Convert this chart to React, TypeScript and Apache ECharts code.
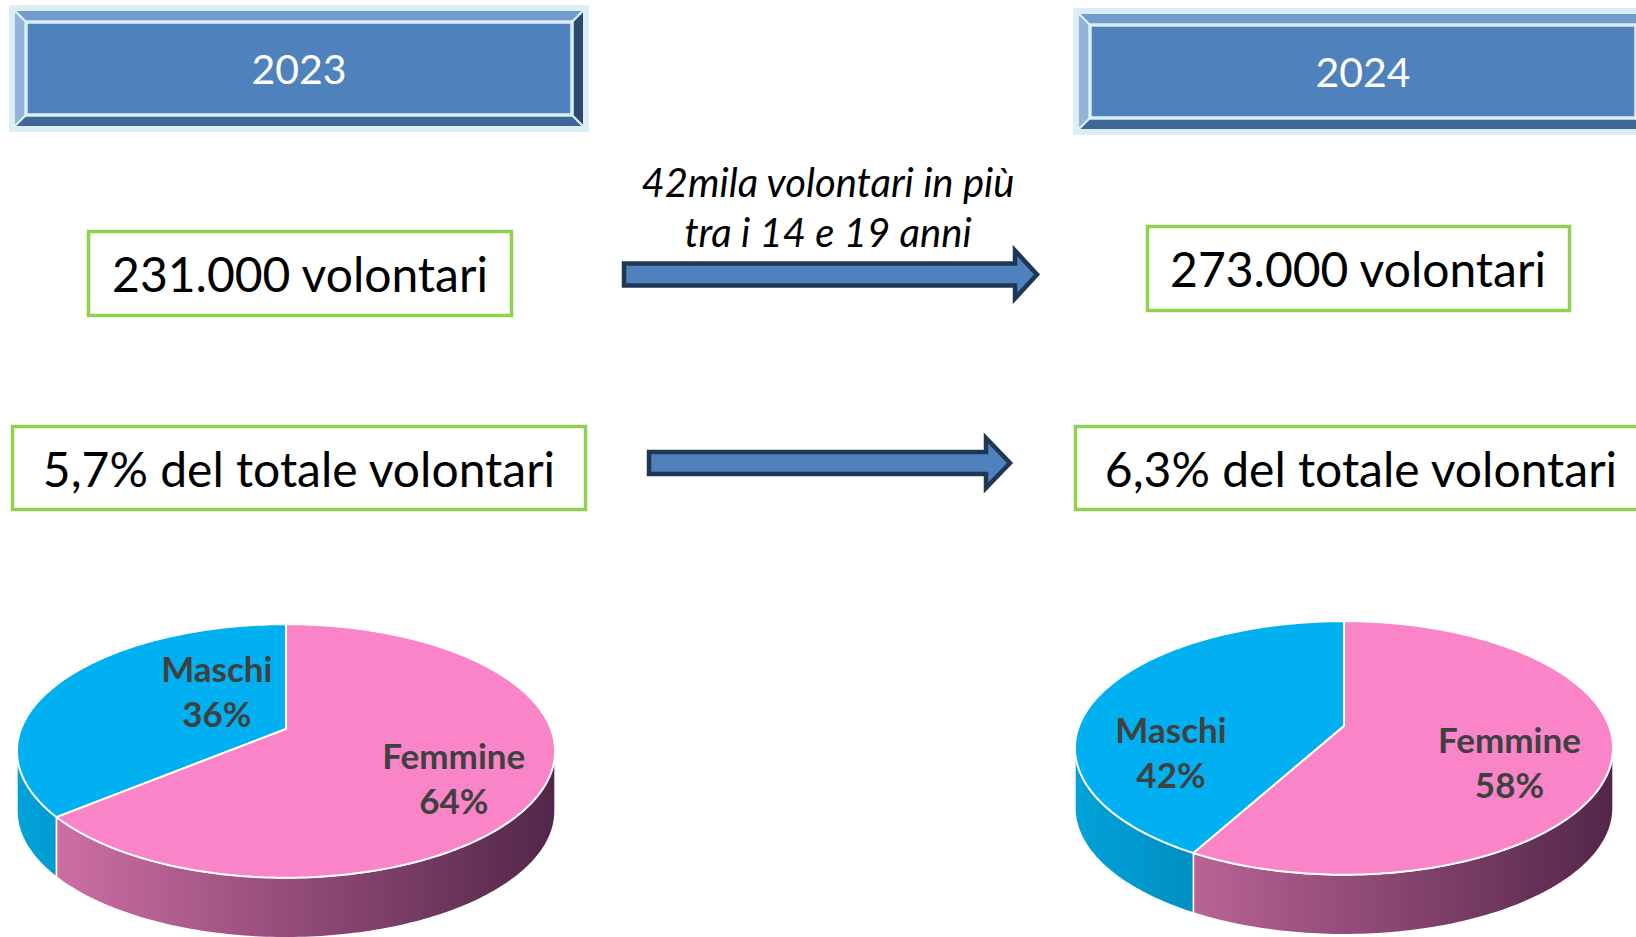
import React, { useEffect, useRef } from 'react';
import * as echarts from 'echarts';

// ---------- data ----------
const GENDERS = ['Maschi', 'Femmine'];
const YEARS = ['2023', '2024'];
const SHARES_2023 = [36, 64];
const SHARES_2024 = [42, 58];
const VOLUNTEERS = ['231.000 volontari', '273.000 volontari'];
const SHARE_OF_TOTAL = ['5,7% del totale volontari', '6,3% del totale volontari'];
const CHANGE_NOTE = ['42mila volontari in più', 'tra i 14 e 19 anni'];

// ---------- style / layout ----------
const FONT = 'Lato, "Open Sans", sans-serif';
const TOP_COLORS = ['#00B0F0', '#F984C8'];
const SIDE_COLORS = [
  ['#00A2DA', '#004E6E'],
  ['#D674AC', '#532649'],
];
const PERSP = 0.173;
const RX = 265;
const RY = 123;
const DEPTH = 60;
const PIE_CENTERS = [
  [286, 729],
  [1344, 726],
];
const LABEL_NUDGE = [
  [[73, -7], [12, 14]],
  [[-18, 44], [2, 16]],
];

function pieSeries(values: number[], pieIdx: number) {
  const [cx, cy] = PIE_CENTERS[pieIdx];
  const total = values.reduce((a, b) => a + b, 0);
  const proj = (deg: number, r = 1, dz = 0) => {
    const t = (deg * Math.PI) / 180;
    const u = -Math.sin(t) * r;
    const v = -Math.cos(t) * r;
    const den = 1 - PERSP * v;
    return [cx + (RX * u) / den, cy + (RY * v) / den + dz];
  };
  const arc = (a: number, b: number, dz: number) => {
    const pts: number[][] = [];
    const n = Math.max(2, Math.ceil(Math.abs(b - a)));
    for (let k = 0; k <= n; k++) pts.push(proj(a + ((b - a) * k) / n, 1, dz));
    return pts;
  };
  const visA = (Math.acos(-PERSP) * 180) / Math.PI;
  const visB = 360 - visA;
  const halfW = RX / Math.sqrt(1 - PERSP * PERSP);
  return {
    type: 'custom',
    coordinateSystem: 'none',
    silent: true,
    data: values.map((v, i) => ({ name: GENDERS[i], value: [v, i] })),
    renderItem: (params: any) => {
      const i = params.dataIndex;
      const before = values.slice(0, i).reduce((a, b) => a + b, 0);
      const a0 = (before / total) * 360;
      const a1 = ((before + values[i]) / total) * 360;
      const children: any[] = [];
      const s0 = Math.max(a0, visA);
      const s1 = Math.min(a1, visB);
      if (s1 > s0) {
        const pts = arc(s0, s1, 0).concat(arc(s1, s0, DEPTH));
        children.push({
          type: 'polygon',
          shape: { points: pts },
          style: {
            fill: {
              type: 'linear',
              x: cx - halfW,
              y: 0,
              x2: cx + halfW,
              y2: 0,
              global: true,
              colorStops: [
                { offset: 0, color: SIDE_COLORS[i][0] },
                { offset: 1, color: SIDE_COLORS[i][1] },
              ],
            },
            stroke: '#ffffff',
            lineWidth: 1.5,
            lineJoin: 'round',
          },
        });
      }
      children.push({
        type: 'polygon',
        shape: { points: [[cx, cy]].concat(arc(a0, a1, 0)) },
        style: { fill: TOP_COLORS[i], stroke: '#ffffff', lineWidth: 2, lineJoin: 'round' },
      });
      const mid = (a0 + a1) / 2;
      const [lx, ly] = proj(mid, 0.62);
      const nd = LABEL_NUDGE[pieIdx][i];
      children.push({
        type: 'text',
        z2: 10,
        x: lx + nd[0],
        y: ly + nd[1],
        style: {
          text: GENDERS[i] + '\n' + values[i] + '%',
          fill: '#404040',
          font: `bold 35px ${FONT}`,
          align: 'center',
          verticalAlign: 'middle',
          textAlign: 'center',
          textVerticalAlign: 'middle',
          lineHeight: 45,
        },
      });
      return { type: 'group', children };
    },
  };
}

function headerBox(x: number, y: number, w: number, h: number, label: string) {
  const b = 5;
  const bev = 12;
  const ox1 = x + b, oy1 = y + b, ox2 = x + w - b, oy2 = y + h - b;
  const ix1 = ox1 + bev, iy1 = oy1 + bev, ix2 = ox2 - bev, iy2 = oy2 - bev;
  const light = '#DAEEF3';
  const poly = (points: number[][], fill: string) => ({
    type: 'polygon',
    shape: { points },
    style: { fill, stroke: light, lineWidth: 2 },
  });
  return [
    { type: 'rect', shape: { x, y, width: w, height: h, r: 2 }, style: { fill: light } },
    poly([[ox1, oy1], [ox2, oy1], [ix2, iy1], [ix1, iy1]], '#729BCE'),
    poly([[ox1, oy1], [ix1, iy1], [ix1, iy2], [ox1, oy2]], '#93B3DB'),
    poly([[ox1, oy2], [ix1, iy2], [ix2, iy2], [ox2, oy2]], '#3F6797'),
    poly([[ox2, oy1], [ox2, oy2], [ix2, iy2], [ix2, iy1]], '#2C4A70'),
    {
      type: 'rect',
      shape: { x: ix1, y: iy1, width: ix2 - ix1, height: iy2 - iy1 },
      style: { fill: '#4F81BD', stroke: light, lineWidth: 3.5 },
    },
    {
      type: 'text',
      x: x + w / 2,
      y: y + h / 2,
      style: {
        text: label,
        fill: '#FFFFFF',
        font: `41px ${FONT}`,
        align: 'center',
        verticalAlign: 'middle',
        textAlign: 'center',
        textVerticalAlign: 'middle',
      },
    },
  ];
}

function greenBox(x: number, y: number, w: number, h: number, label: string, tx: number) {
  return [
    {
      type: 'rect',
      shape: { x, y, width: w, height: h },
      style: { fill: '#FFFFFF', stroke: '#92D050', lineWidth: 3.5 },
    },
    {
      type: 'text',
      x: tx,
      y: y + h / 2,
      style: {
        text: label,
        fill: '#000000',
        font: `48px ${FONT}`,
        align: 'center',
        verticalAlign: 'middle',
        textAlign: 'center',
        textVerticalAlign: 'middle',
      },
    },
  ];
}

function arrow(x0: number, x1: number, xh: number, cy: number, hs: number, hh: number) {
  return {
    type: 'polygon',
    shape: {
      points: [
        [x0, cy - hs],
        [xh, cy - hs],
        [xh, cy - hh],
        [x1, cy],
        [xh, cy + hh],
        [xh, cy + hs],
        [x0, cy + hs],
      ],
    },
    style: { fill: '#4F81BD', stroke: '#1F3654', lineWidth: 4.5, lineJoin: 'miter' },
  };
}

export default function App() {
  const ref = useRef<HTMLDivElement>(null);
  useEffect(() => {
    document.body.style.margin = '0';
    const chart = echarts.init(ref.current!, null, { renderer: 'svg' });
    const graphics: any[] = [
      ...headerBox(9, 5, 580, 127, YEARS[0]),
      ...headerBox(1073, 8, 580, 127, YEARS[1]),
      ...greenBox(88.5, 231.5, 423, 84, VOLUNTEERS[0], 300),
      ...greenBox(1147.5, 226.5, 422, 84, VOLUNTEERS[1], 1358),
      ...greenBox(12.5, 426.5, 573, 83, SHARE_OF_TOTAL[0], 299),
      ...greenBox(1075.5, 426.5, 600, 83, SHARE_OF_TOTAL[1], 1361),
      arrow(624, 1037, 1015, 274.5, 11, 24),
      arrow(649, 1010, 986, 463, 11, 25),
      {
        type: 'text',
        x: 828,
        y: 207,
        style: {
          text: CHANGE_NOTE.join('\n'),
          fill: '#000000',
          font: `italic 40px ${FONT}`,
          align: 'center',
          verticalAlign: 'middle',
          textAlign: 'center',
          textVerticalAlign: 'middle',
          lineHeight: 50,
        },
      },
    ];
    chart.setOption({
      animation: false,
      backgroundColor: '#FFFFFF',
      graphic: { elements: graphics },
      series: [pieSeries(SHARES_2023, 0), pieSeries(SHARES_2024, 1)],
    });
    return () => chart.dispose();
  }, []);
  return (
    <div
      ref={ref}
      style={{ position: 'absolute', left: 0, top: 0, width: 1636, height: 937 }}
    />
  );
}
